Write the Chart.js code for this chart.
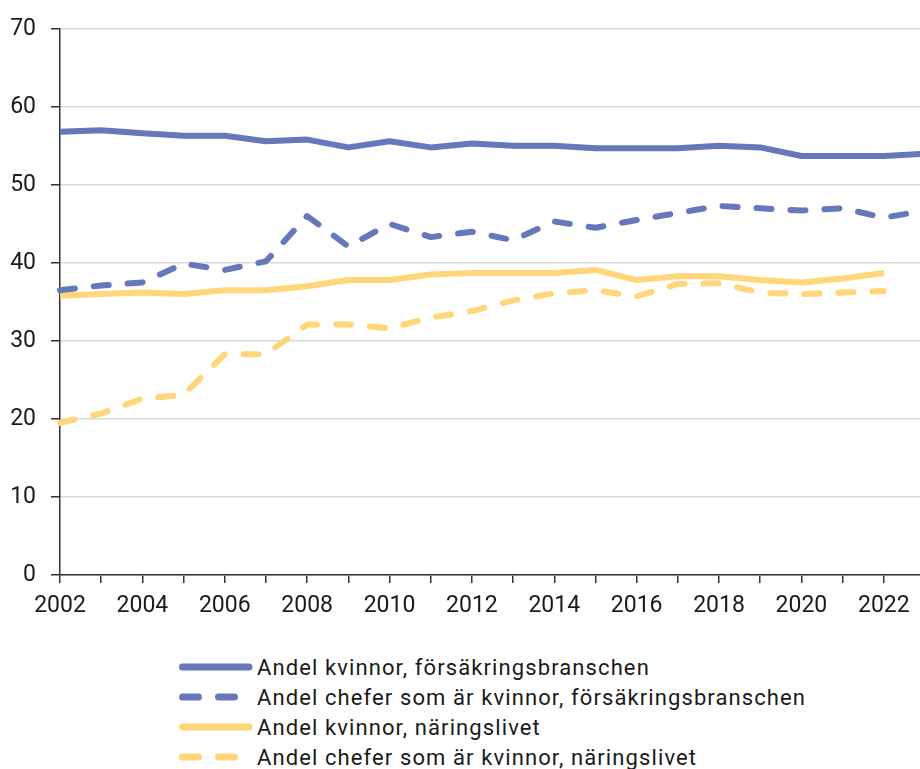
<!DOCTYPE html>
<html>
<head>
<meta charset="utf-8">
<script src="https://cdn.jsdelivr.net/npm/chart.js@4"></script>
<style>
  html, body { margin: 0; padding: 0; background: #fff; overflow: hidden; }
  body { width: 920px; height: 769px; position: relative; font-family: Roboto, sans-serif; }
  #wrap { position: absolute; left: 0; top: 0; width: 934px; height: 625px; }
  #legend { position: absolute; left: 179px; top: 652px; }
  .row { display: flex; align-items: center; height: 30px; font-size: 22px; letter-spacing: 1.1px; color: #1a1a1a; }
  .row svg { width: 74px; height: 10px; margin-right: 4px; }
</style>
</head>
<body>
<div id="wrap"><canvas id="chart"></canvas></div>
<div id="legend"></div>
<script>
// Data
var years = ['2002', '2003', '2004', '2005', '2006', '2007', '2008', '2009', '2010', '2011', '2012',
             '2013', '2014', '2015', '2016', '2017', '2018', '2019', '2020', '2021', '2022', '2023'];
var kvinnorForsakring = [56.8, 57.0, 56.6, 56.3, 56.3, 55.6, 55.8, 54.8, 55.6, 54.8, 55.3,
                         55.0, 55.0, 54.7, 54.7, 54.7, 55.0, 54.8, 53.7, 53.7, 53.7, 54.0];
var chefForsakring = [36.5, 37.1, 37.5, 39.9, 39.1, 40.2, 46.0, 42.1, 45.0, 43.3, 44.0,
                      42.9, 45.3, 44.5, 45.5, 46.4, 47.3, 47.0, 46.7, 47.0, 45.8, 46.7];
var kvinnorNaring = [35.8, 36.0, 36.2, 36.0, 36.5, 36.5, 37.0, 37.8, 37.8, 38.5, 38.7,
                     38.7, 38.7, 39.1, 37.8, 38.3, 38.3, 37.8, 37.5, 38.0, 38.7, null];
var chefNaring = [19.5, 20.7, 22.6, 23.1, 28.3, 28.3, 32.1, 32.1, 31.6, 33.0, 33.8,
                  35.2, 36.1, 36.5, 35.7, 37.3, 37.4, 36.2, 36.0, 36.2, 36.4, null];
var yTicks = [0, 10, 20, 30, 40, 50, 60, 70];

var blue = '#6677bb';
var yellow = '#ffd67a';
var dash = [15, 19];

function line(label, data, color, dashed) {
    return {
        label: label,
        data: data,
        borderColor: color,
        backgroundColor: color,
        borderWidth: 6,
        borderDash: dashed ? dash : [],
        borderCapStyle: dashed ? 'round' : 'butt',
        borderJoinStyle: 'round',
        pointRadius: 0,
        tension: 0,
        fill: false
    };
}

var datasets = [
    line('Andel kvinnor, försäkringsbranschen', kvinnorForsakring, blue, false),
    line('Andel chefer som är kvinnor, försäkringsbranschen', chefForsakring, blue, true),
    line('Andel kvinnor, näringslivet', kvinnorNaring, yellow, false),
    line('Andel chefer som är kvinnor, näringslivet', chefNaring, yellow, true)
];

var chart = new Chart(document.getElementById('chart'), {
    type: 'line',
    data: { labels: years, datasets: datasets },
    options: {
        responsive: true,
        maintainAspectRatio: false,
        animation: false,
        layout: { padding: { top: 27, right: 1, left: 0, bottom: 0 } },
        plugins: { legend: { display: false }, tooltip: { enabled: false } },
        scales: {
            x: {
                offset: false,
                afterFit: function (s) { s.height = 50; },
                grid: { drawOnChartArea: false, drawTicks: true, tickLength: 8, color: '#333', lineWidth: 1.5 },
                border: { color: '#333', width: 1.5 },
                ticks: {
                    autoSkip: false, maxRotation: 0, color: '#1a1a1a', padding: 9,
                    font: { family: 'Roboto', size: 23 },
                    callback: function (v, i) { return i % 2 === 0 ? years[i] : ''; }
                }
            },
            y: {
                min: 0, max: 70,
                afterFit: function (s) { s.width = 60; },
                afterBuildTicks: function (s) { s.ticks = yTicks.map(function (v) { return { value: v }; }); },
                grid: { color: '#d9d9d9', lineWidth: 1.5, tickLength: 9, tickColor: '#333' },
                border: { color: '#333', width: 1.5 },
                ticks: { color: '#1a1a1a', padding: 15, font: { family: 'Roboto', size: 23 } }
            }
        }
    }
});

// legend drawn as HTML beneath the chart
var legend = document.getElementById('legend');
datasets.forEach(function (ds) {
    var row = document.createElement('div');
    row.className = 'row';
    var dashed = ds.borderDash.length > 0;
    var attrs = dashed ? ' x2="56" stroke-dasharray="16 20"' : ' x2="70"';
    row.innerHTML = '<svg viewBox="0 0 74 10"><line x1="3.5" y1="5"' + attrs + ' y2="5" stroke="' +
        ds.borderColor + '" stroke-width="7" stroke-linecap="round"/></svg><span>' + ds.label + '</span>';
    legend.appendChild(row);
});
</script>
</body>
</html>
